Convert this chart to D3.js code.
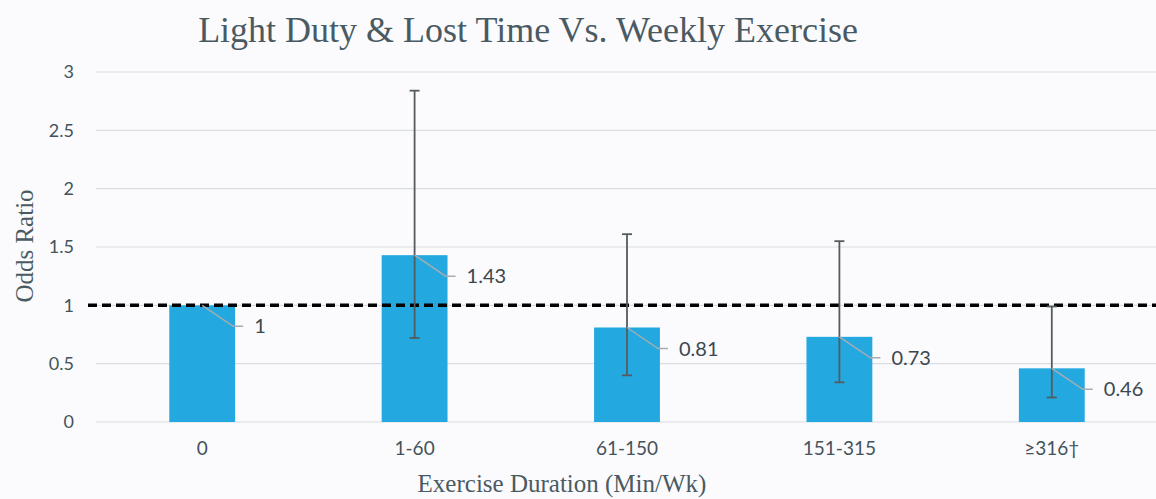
<!DOCTYPE html>
<meta charset="utf-8">
<style>
  body { margin: 0; background-color: #fbfbfd; }
  .tick text { font-family: Lato, "Open Sans", sans-serif; fill: #44535b; }
</style>
<body>
<svg width="1156" height="499"></svg>
<script src="https://d3js.org/d3.v7.min.js"></script>
<script>

var categories = ["0", "1-60", "61-150", "151-315", "\u2265316\u2020"];
var oddsRatio = [1, 1.43, 0.81, 0.73, 0.46];
var ciLow = [null, 0.72, 0.40, 0.34, 0.21];
var ciHigh = [null, 2.84, 1.61, 1.55, 0.99];
var yTicks = [0, 0.5, 1, 1.5, 2, 2.5, 3];

var svg = d3.select("svg"),
    width = +svg.attr("width"),
    height = +svg.attr("height");

var x = d3.scaleBand()
    .domain(categories)
    .range([96, 1158])
    .paddingInner(0.69)
    .paddingOuter(0.345);

var y = d3.scaleLinear()
    .domain([0, 3])
    .range([422, 72]);

// gridlines
svg.append("g")
  .selectAll("line")
  .data(yTicks)
  .enter().append("line")
    .attr("x1", 96).attr("x2", 1158)
    .attr("y1", d => y(d)).attr("y2", d => y(d))
    .attr("stroke", "#d9dde2")
    .attr("stroke-width", 1.2);

// y axis labels
var yAxis = svg.append("g")
    .attr("transform", "translate(74,0)")
    .call(d3.axisLeft(y).tickValues(yTicks).tickSize(0).tickPadding(0).tickFormat(d3.format("")));
yAxis.select(".domain").remove();
yAxis.selectAll("text").style("font-size", "18px");

// x axis labels
var xAxis = svg.append("g")
    .attr("transform", "translate(0,441)")
    .call(d3.axisBottom(x).tickSize(0).tickPadding(0));
xAxis.select(".domain").remove();
xAxis.selectAll("text").style("font-size", "19px").attr("dy", "0.71em");

var data = categories.map((c, i) => ({ cat: c, v: oddsRatio[i], lo: ciLow[i], hi: ciHigh[i] }));

// bars
svg.append("g")
  .selectAll("rect")
  .data(data)
  .enter().append("rect")
    .attr("x", d => x(d.cat))
    .attr("width", x.bandwidth())
    .attr("y", d => y(d.v))
    .attr("height", d => y(0) - y(d.v))
    .attr("fill", "#23a8e0");

// reference line at 1
svg.append("line")
    .attr("x1", 88).attr("x2", 1158)
    .attr("y1", y(1)).attr("y2", y(1))
    .attr("stroke", "#000")
    .attr("stroke-width", 3.5)
    .attr("stroke-dasharray", "9,5");

// error bars
var eb = svg.append("g")
    .attr("stroke", "#555b5e")
    .attr("stroke-width", 1.8)
  .selectAll("g")
  .data(data.filter(d => d.lo != null))
  .enter().append("g");

eb.append("line")
    .attr("x1", d => x(d.cat) + x.bandwidth() / 2)
    .attr("x2", d => x(d.cat) + x.bandwidth() / 2)
    .attr("y1", d => y(d.lo)).attr("y2", d => y(d.hi));
eb.append("line")
    .attr("x1", d => x(d.cat) + x.bandwidth() / 2 - 5)
    .attr("x2", d => x(d.cat) + x.bandwidth() / 2 + 5)
    .attr("y1", d => y(d.hi)).attr("y2", d => y(d.hi));
eb.append("line")
    .attr("x1", d => x(d.cat) + x.bandwidth() / 2 - 5)
    .attr("x2", d => x(d.cat) + x.bandwidth() / 2 + 5)
    .attr("y1", d => y(d.lo)).attr("y2", d => y(d.lo));

// data labels with leader lines
var lbl = svg.append("g")
  .selectAll("g")
  .data(data)
  .enter().append("g")
    .attr("transform", d => "translate(" + (x(d.cat) + x.bandwidth() / 2) + "," + y(d.v) + ")");

lbl.append("polyline")
    .attr("points", "0,0 31,21 41,21")
    .attr("fill", "none")
    .attr("stroke", "#a7acb0")
    .attr("stroke-width", 1.5);

lbl.append("text")
    .attr("x", 52)
    .attr("y", 21)
    .attr("dy", "0.35em")
    .style("font-family", "Lato, 'Open Sans', sans-serif")
    .style("font-size", "20px")
    .attr("fill", "#3c474d")
    .text(d => d.v);

// titles
svg.append("text")
    .attr("x", 528).attr("y", 42)
    .attr("text-anchor", "middle")
    .style("font-family", "'Liberation Serif', 'Times New Roman', serif")
    .style("font-size", "36px")
    .attr("fill", "#4a5a62")
    .text("Light Duty & Lost Time Vs. Weekly Exercise");

svg.append("text")
    .attr("x", 562).attr("y", 492)
    .attr("text-anchor", "middle")
    .style("font-family", "'Liberation Serif', 'Times New Roman', serif")
    .style("font-size", "25px")
    .attr("fill", "#4a5a62")
    .text("Exercise Duration (Min/Wk)");

svg.append("text")
    .attr("transform", "translate(33,246) rotate(-90)")
    .attr("text-anchor", "middle")
    .style("font-family", "'Liberation Serif', 'Times New Roman', serif")
    .style("font-size", "25px")
    .attr("fill", "#4a5a62")
    .text("Odds Ratio");

</script>
